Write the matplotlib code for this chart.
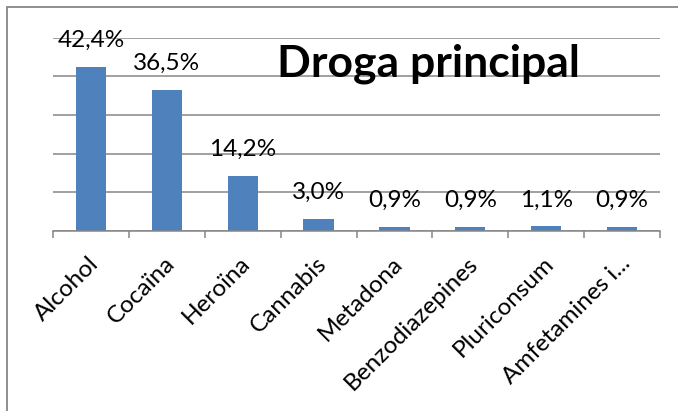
import matplotlib
matplotlib.use("Agg")
import matplotlib.pyplot as plt
from matplotlib.patches import Rectangle

categories = ["Alcohol", "Cocaïna", "Heroïna", "Cannabis", "Metadona",
              "Benzodiazepines", "Pluriconsum", "Amfetamines i..."]
values = [42.4, 36.5, 14.2, 3.0, 0.9, 0.9, 1.1, 0.9]
labels = ["42,4%", "36,5%", "14,2%", "3,0%", "0,9%", "0,9%", "1,1%", "0,9%"]
title = "Droga principal"

W, H = 678, 411
PT = 72 / 100  # points per pixel at dpi 100
fig = plt.figure(figsize=(W / 100, H / 100), dpi=100)
fig.patch.set_facecolor("white")

# outer chart frame
fig.patches.append(Rectangle((7 / W, -0.1), 1.2, (H - 7) / H + 0.1,
                             transform=fig.transFigure, fill=False,
                             edgecolor="#868686", linewidth=1.3))

ax = fig.add_axes([53 / W, 1 - 230.7 / H, (660 - 53) / W, (230.7 - 37.7) / H])
x = list(range(len(categories)))
ax.bar(x, values, width=0.4, color="#4F81BD", zorder=3)
ax.set_xlim(-0.5, len(categories) - 0.5)
ax.set_ylim(0, 50)
ax.set_yticks([0, 10, 20, 30, 40, 50])
ax.yaxis.grid(True, color="#868686", linewidth=1.1, zorder=0)
ax.tick_params(axis="y", left=False, labelleft=False)
for s in ["left", "right", "top"]:
    ax.spines[s].set_visible(False)
ax.spines["bottom"].set_color("#868686")
ax.spines["bottom"].set_linewidth(1.1)
ax.spines["bottom"].set_zorder(4)

# tick marks at category boundaries
ax.set_xticks([i - 0.5 for i in range(len(categories) + 1)])
ax.set_xticklabels([])
ax.tick_params(axis="x", direction="out", length=5, width=1.1, color="#868686")

# rotated category labels, top-right corner near the category centre
for xi, cat in zip(x, categories):
    ax.annotate(cat, (xi, 0), xycoords=("data", "axes fraction"),
                xytext=(-3 * PT, -22 * PT), textcoords="offset points",
                rotation=45, ha="right", va="top", rotation_mode="anchor",
                fontsize=17.5, family="Lato", annotation_clip=False)

for xi, v, lab in zip(x, values, labels):
    ax.annotate(lab, (xi, v), xytext=(0, 20 * PT), textcoords="offset points",
                ha="center", va="baseline", fontsize=17.5, family="Lato",
                zorder=5)

fig.text(428 / W, 1 - 77 / H, title, ha="center", va="baseline",
         fontsize=32, fontweight="bold", family="Lato")

fig.savefig("out.png", dpi=100)
